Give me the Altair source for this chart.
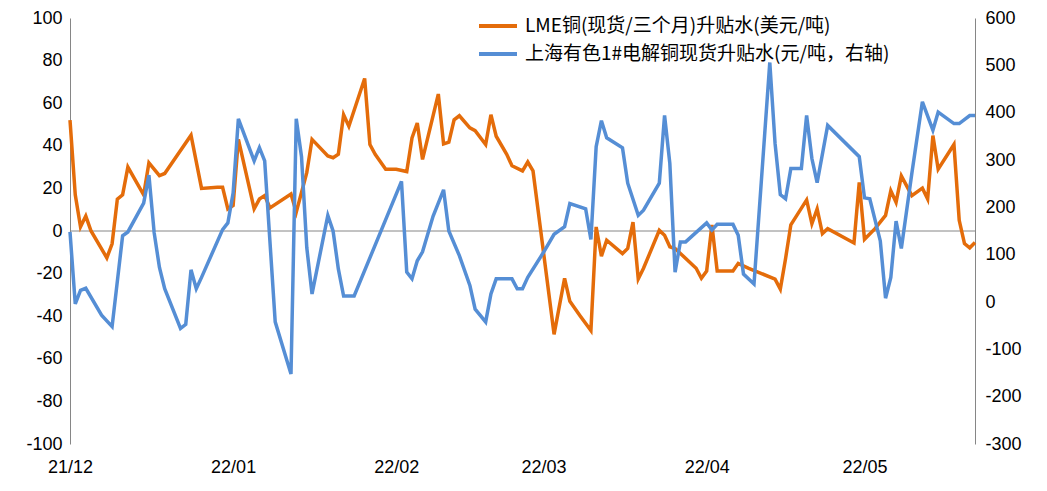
import altair as alt
import pandas as pd

series_names = ["LME铜(现货/三个月)升贴水(美元/吨)", "上海有色1#电解铜现货升贴水(元/吨，右轴)"]
series_colors = ["#E46C0A", "#558ED5"]

lme_dates = [
    "2021-12-01", "2021-12-02", "2021-12-03", "2021-12-04", "2021-12-05", "2021-12-08", "2021-12-09",
    "2021-12-10", "2021-12-11", "2021-12-12", "2021-12-15", "2021-12-16", "2021-12-18", "2021-12-19",
    "2021-12-24", "2021-12-26", "2021-12-29", "2021-12-30", "2021-12-31", "2022-01-01", "2022-01-02",
    "2022-01-05", "2022-01-06", "2022-01-07", "2022-01-08", "2022-01-12", "2022-01-13", "2022-01-15",
    "2022-01-16", "2022-01-19", "2022-01-20", "2022-01-21", "2022-01-22", "2022-01-23", "2022-01-26",
    "2022-01-27", "2022-01-28", "2022-01-30", "2022-02-01", "2022-02-03", "2022-02-04", "2022-02-05",
    "2022-02-06", "2022-02-09", "2022-02-10", "2022-02-11", "2022-02-12", "2022-02-13", "2022-02-15",
    "2022-02-16", "2022-02-18", "2022-02-19", "2022-02-20", "2022-02-22", "2022-02-23", "2022-02-25",
    "2022-02-26", "2022-02-27", "2022-03-03", "2022-03-05", "2022-03-06", "2022-03-08", "2022-03-10",
    "2022-03-11", "2022-03-12", "2022-03-13", "2022-03-16", "2022-03-17", "2022-03-18", "2022-03-19",
    "2022-03-20", "2022-03-23", "2022-03-24", "2022-03-25", "2022-03-26", "2022-03-30", "2022-03-31",
    "2022-04-01", "2022-04-02", "2022-04-03", "2022-04-06", "2022-04-07", "2022-04-09", "2022-04-14",
    "2022-04-15", "2022-04-16", "2022-04-17", "2022-04-20", "2022-04-21", "2022-04-22", "2022-04-23",
    "2022-04-24", "2022-04-29", "2022-04-30", "2022-05-01", "2022-05-03", "2022-05-05", "2022-05-06",
    "2022-05-07", "2022-05-08", "2022-05-10", "2022-05-12", "2022-05-13", "2022-05-14", "2022-05-15",
    "2022-05-18", "2022-05-19", "2022-05-20", "2022-05-21", "2022-05-22",
]
lme_values = [
    52, 17, 2, 7, 0, -12.6, -6,
    15, 17, 30, 17, 32, 26, 27,
    45, 20, 20.5, 20.5, 10.4, 12, 43,
    10.4, 15, 16.6, 10.8, 17.4, 8.8, 27.4,
    43, 35.2, 34.4, 36, 54.6, 49.2, 71.6,
    40.6, 36, 29, 29, 27.9, 43.7, 50.7,
    33.6, 64.3, 40.9, 41.7, 52.2, 54.1, 48.4,
    47.1, 40.6, 54.6, 44.5, 36, 30.6, 28.2,
    32.4, 28.2, -48.5, -22.2, -33, -40, -46.7,
    1.9, -11.8, -4.3, -10.6, -8.2, 4.2, -22.5,
    -17.5, 0.3, -2, -7.4, -8.2, -17.5, -22.2,
    -18.8, 2.9, -18.8, -18.8, -15.2, -17.5, -22.6,
    -27.3, -12.9, 2.9, 14.6, 3.4, 10.4, -1.2,
    1.1, -5.6, 22.8, -3.9, 1.1, 7.3, 18.9,
    13.5, 25.9, 16.6, 20.1, 15, 44.8, 29,
    40.6, 5, -5.9, -7.9, -5.4,
]

sh_dates = [
    "2021-12-01", "2021-12-02", "2021-12-03", "2021-12-04", "2021-12-07", "2021-12-09", "2021-12-11",
    "2021-12-12", "2021-12-15", "2021-12-16", "2021-12-17", "2021-12-18", "2021-12-19", "2021-12-22",
    "2021-12-23", "2021-12-24", "2021-12-25", "2021-12-26", "2021-12-30", "2021-12-31", "2022-01-01",
    "2022-01-02", "2022-01-05", "2022-01-06", "2022-01-07", "2022-01-09", "2022-01-12", "2022-01-13",
    "2022-01-14", "2022-01-15", "2022-01-16", "2022-01-19", "2022-01-20", "2022-01-21", "2022-01-22",
    "2022-01-24", "2022-02-02", "2022-02-03", "2022-02-04", "2022-02-05", "2022-02-06", "2022-02-08",
    "2022-02-10", "2022-02-11", "2022-02-13", "2022-02-15", "2022-02-16", "2022-02-18", "2022-02-19",
    "2022-02-20", "2022-02-23", "2022-02-24", "2022-02-25", "2022-02-26", "2022-03-01", "2022-03-03",
    "2022-03-05", "2022-03-06", "2022-03-09", "2022-03-10", "2022-03-11", "2022-03-12", "2022-03-13",
    "2022-03-16", "2022-03-17", "2022-03-19", "2022-03-20", "2022-03-23", "2022-03-24", "2022-03-25",
    "2022-03-26", "2022-03-27", "2022-03-28", "2022-04-01", "2022-04-02", "2022-04-03", "2022-04-06",
    "2022-04-07", "2022-04-08", "2022-04-10", "2022-04-13", "2022-04-14", "2022-04-15", "2022-04-16",
    "2022-04-17", "2022-04-19", "2022-04-20", "2022-04-21", "2022-04-22", "2022-04-24", "2022-04-30",
    "2022-05-01", "2022-05-02", "2022-05-04", "2022-05-05", "2022-05-06", "2022-05-07", "2022-05-08",
    "2022-05-10", "2022-05-12", "2022-05-14", "2022-05-15", "2022-05-18", "2022-05-19", "2022-05-21",
    "2022-05-22",
]
sh_values = [
    148, -4, 24.5, 29, -28, -52, 140,
    148, 209, 268, 146, 73, 28, -56,
    -47, 68, 28, 52, 153, 167, 230,
    387, 298, 326, 298, -42, -152, 387,
    307, 115, 17, 183, 150, 70, 12.6,
    12.6, 255, 63, 49, 87, 106, 181,
    237, 150, 98, 35, -15, -42, 17,
    49, 49, 28, 28, 52, 105, 143,
    159, 208, 197, 132, 328, 383, 347,
    326, 251, 183, 194, 251, 394, 293,
    63, 127, 127, 167, 152, 164, 164,
    141, 59, 38, 506, 335, 227, 218,
    282, 282, 394, 303, 252, 373, 307,
    220, 218, 129, 8, 52, 171, 113,
    272, 423, 363, 401, 377, 377, 394,
    394,
]

month_ticks = [(2021, 12), (2022, 1), (2022, 2), (2022, 3), (2022, 4), (2022, 5)]
left_ticks = list(range(-100, 101, 20))
right_ticks = list(range(-300, 601, 100))

lme = pd.DataFrame({"date": lme_dates, "value": lme_values, "series": series_names[0]})
sh = pd.DataFrame({"date": sh_dates, "value": sh_values, "series": series_names[1]})

CJK_FONT = "Noto Sans CJK SC"
NUM_FONT = "Liberation Sans"
AXIS_GRAY = "#868686"

x_enc = alt.X(
    "date:T",
    title=None,
    scale=alt.Scale(
        type="utc",
        domain=[alt.DateTime(year=2021, month=12, date=1, utc=True),
                alt.DateTime(year=2022, month=5, date=22, utc=True)],
    ),
    axis=alt.Axis(
        values=[alt.DateTime(year=y, month=m, date=1, utc=True) for y, m in month_ticks],
        format="%y/%m",
        domain=False,
        ticks=False,
        grid=False,
        labelFlush=False,
        labelPadding=14,
        labelFontSize=18,
        labelColor="#000000",
        labelFont=NUM_FONT,
    ),
)

color_enc = alt.Color(
    "series:N",
    scale=alt.Scale(domain=series_names, range=series_colors),
    legend=alt.Legend(
        title=None,
        orient="none",
        legendX=407,
        legendY=-5,
        symbolType="stroke",
        symbolSize=1444,
        symbolStrokeWidth=4,
        clipHeight=26,
        rowPadding=2,
        labelFontSize=19,
        labelFont=CJK_FONT,
        labelColor="#000000",
        labelLimit=0,
        labelOffset=6,
        padding=0,
    ),
)

zero_rule = alt.Chart(pd.DataFrame({"zero": [0]})).mark_rule(
    color=AXIS_GRAY, strokeWidth=1
).encode(y=alt.Y("zero:Q", scale=alt.Scale(domain=[-100, 100], nice=False)))

lme_line = alt.Chart(lme).mark_line(strokeWidth=3.5).encode(
    x=x_enc,
    y=alt.Y(
        "value:Q",
        title=None,
        scale=alt.Scale(domain=[-100, 100], nice=False),
        axis=alt.Axis(
            orient="left",
            values=left_ticks,
            labelExpr="'' + datum.value",
            grid=False,
            ticks=False,
            domainColor=AXIS_GRAY,
            labelPadding=8,
            labelFontSize=18,
            labelFont=NUM_FONT,
            labelColor="#000000",
        ),
    ),
    color=color_enc,
)

sh_line = alt.Chart(sh).mark_line(strokeWidth=3.5).encode(
    x=x_enc,
    y=alt.Y(
        "value:Q",
        title=None,
        scale=alt.Scale(domain=[-300, 600], nice=False),
        axis=alt.Axis(
            orient="right",
            values=right_ticks,
            labelExpr="'' + datum.value",
            grid=False,
            ticks=False,
            domainColor=AXIS_GRAY,
            labelPadding=10,
            labelFontSize=18,
            labelFont=NUM_FONT,
            labelColor="#000000",
        ),
    ),
    color=color_enc,
)

left = alt.layer(zero_rule, lme_line)

chart = (
    alt.layer(left, sh_line)
    .resolve_scale(y="independent", color="shared")
    .properties(
        width=905,
        height=426,
        autosize=alt.AutoSizeParams(type="none"),
        padding={"left": 62, "top": 10, "right": 64, "bottom": 34},
        background="#ffffff",
    )
    .configure_view(stroke=None)
)

chart.save("out.html", embed_options={"renderer": "svg", "actions": False})
